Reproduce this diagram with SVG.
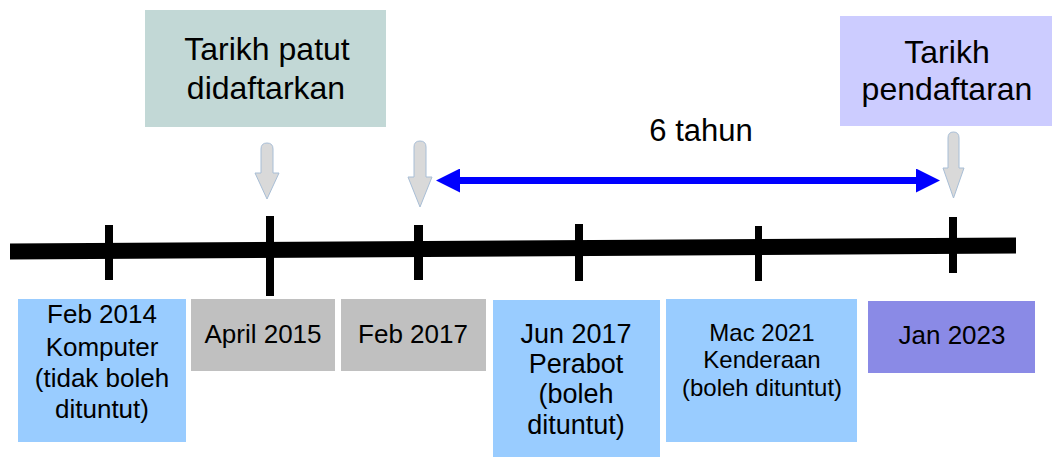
<svg xmlns="http://www.w3.org/2000/svg" width="1052" height="457" viewBox="0 0 1052 457">
<style>
text{font-family:"Liberation Sans",Arial,sans-serif;fill:#000;text-anchor:middle}
.blue{fill:#99ccff}
.gray{fill:#c0c0c0}
.garrow{fill:#d9d9d9;stroke:#a8bed6;stroke-width:1}
.tick{fill:#000}
</style>
<defs>
<marker id="bh" viewBox="0 0 24 24" refX="2" refY="12" markerWidth="24" markerHeight="24" markerUnits="userSpaceOnUse" orient="auto-start-reverse">
<path d="M0,0 L24,12 L0,24 Z" fill="#0000ff"/>
</marker>
</defs>
<rect width="1052" height="457" fill="#fff"/>
<g id="title-patut">
<rect x="145" y="10" width="241" height="117" fill="#c2d8d6"/>
<text x="267" y="60" font-size="32">Tarikh patut</text>
<text x="266" y="99" font-size="32">didaftarkan</text>
</g>
<g id="title-pendaftaran">
<rect x="840" y="16" width="212" height="110" fill="#ccccff"/>
<text x="947" y="63" font-size="32">Tarikh</text>
<text x="947" y="100" font-size="32">pendaftaran</text>
</g>
<g id="label-6tahun">
<text x="701" y="141" font-size="31">6 tahun</text>
</g>
<g id="connectors">
<line x1="458" y1="180.5" x2="918" y2="180.5" stroke="#0000ff" stroke-width="7" marker-start="url(#bh)" marker-end="url(#bh)"/>
<path class="garrow" d="M261,149 Q261,143 267,143 Q273,143 273,149 L273,173 L279,173 L267,199 L255,173 L261,173 Z"/>
<path class="garrow" d="M414,147 Q414,141 420,141 Q426,141 426,147 L426,177 L432,177 L420,207 L408,177 L414,177 Z"/>
<path class="garrow" d="M948,138 Q948,132 953.5,132 Q959,132 959,138 L959,168 L964,168 L953.5,198 L943,168 L948,168 Z"/>
</g>
<g id="timeline">
<polygon points="10,243.5 1016,237.5 1016,253.5 10,259.5" fill="#000"/>
<rect class="tick" x="105" y="225" width="8" height="55"/>
<rect class="tick" x="266" y="216" width="8" height="80"/>
<rect class="tick" x="414" y="225" width="9" height="55"/>
<rect class="tick" x="575" y="224" width="8" height="57"/>
<rect class="tick" x="755" y="226" width="7" height="55"/>
<rect class="tick" x="949" y="217" width="8" height="56"/>
</g>
<g id="feb2014">
<rect class="blue" x="18" y="299" width="168" height="143"/>
<text x="102" y="323" font-size="26">Feb 2014</text>
<text x="102" y="356" font-size="26">Komputer</text>
<text x="102" y="387" font-size="26">(tidak boleh</text>
<text x="102" y="418" font-size="26">dituntut)</text>
</g>
<g id="april2015">
<rect class="gray" x="191" y="299" width="144" height="72"/>
<text x="263" y="343" font-size="26">April 2015</text>
</g>
<g id="feb2017">
<rect class="gray" x="341" y="299" width="145" height="72"/>
<text x="413" y="343" font-size="26">Feb 2017</text>
</g>
<g id="jun2017">
<rect class="blue" x="493" y="300" width="167" height="157"/>
<text x="576" y="343" font-size="27">Jun 2017</text>
<text x="576" y="373" font-size="27">Perabot</text>
<text x="576" y="403" font-size="27">(boleh</text>
<text x="576" y="434" font-size="27">dituntut)</text>
</g>
<g id="mac2021">
<rect class="blue" x="666" y="299" width="191" height="143"/>
<text x="762" y="341" font-size="24">Mac 2021</text>
<text x="762" y="368" font-size="24">Kenderaan</text>
<text x="762" y="396" font-size="24">(boleh dituntut)</text>
</g>
<g id="jan2023">
<rect x="868" y="301" width="167" height="72" fill="#8a8ae6"/>
<text x="952" y="344" font-size="26">Jan 2023</text>
</g>
</svg>
